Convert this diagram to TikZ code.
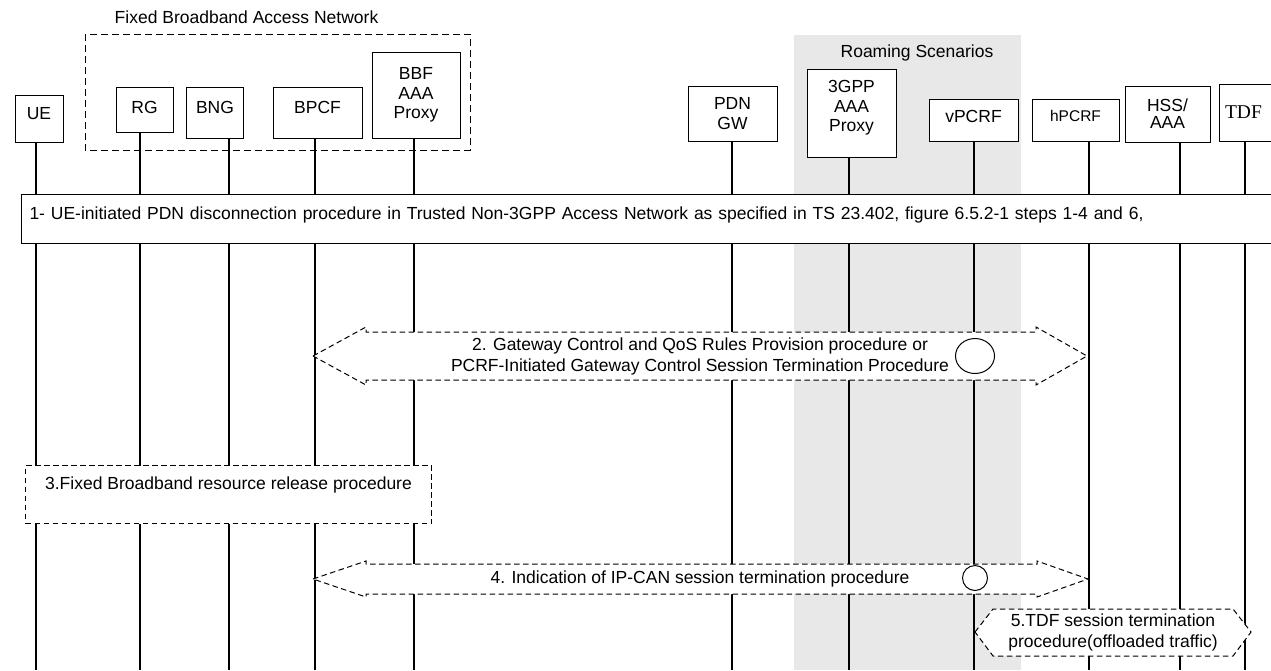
\documentclass[tikz,border=0pt]{standalone}
\usepackage{fontspec}
\setmainfont{Liberation Sans}
\newfontfamily\tdffont{Liberation Serif}
\tikzset{
    entity/.style={draw, fill=white, line width=1pt, inner sep=0pt, align=center,
            font=\fontsize{17.5}{19.5}\selectfont},
    lifeline/.style={line width=1.1pt},
    procdash/.style={dash pattern=on 5.5pt off 3.5pt, line width=1pt},
    proctext/.style={inner sep=0pt, align=center, font=\fontsize{17.5}{21}\selectfont},
}

\begin{document}
\begin{tikzpicture}[x=1pt, y=-1pt]
        \useasboundingbox (0,0) rectangle (1271,670);
        %draw roaming area
        \fill[black!9] (794,35) rectangle (1021,670);
        \node[proctext] (roaming) at (917,53) {Roaming Scenarios};
        %draw fixed broadband access network area
        \draw[dash pattern=on 7pt off 4pt, line width=1pt] (85,34) rectangle (470,150);
        \node[proctext] (fban) at (246.5,17) {Fixed Broadband Access Network};
        %draw network elements
        \node[entity, minimum width=48pt, minimum height=47pt, text height=12.5pt, text depth=11pt] (ue) at (39,118.5) {UE};
        \node[entity, minimum width=57pt, minimum height=45pt, text height=12.5pt, text depth=5pt] (rg) at (144.5,109.5) {RG};
        \node[entity, minimum width=57pt, minimum height=51pt, text height=12.5pt, text depth=11pt] (bng) at (215,112.5) {BNG};
        \node[entity, minimum width=89pt, minimum height=51pt, text height=12.5pt, text depth=11pt] (bpcf) at (317.5,112.5) {BPCF};
        \node[entity, minimum width=88pt, minimum height=86pt] (bbf) at (416,95) {BBF\\AAA\\Proxy};
        \node[entity, minimum width=89pt, minimum height=55pt] (pdngw) at (732.5,113.5) {PDN\\GW};
        \node[entity, minimum width=89pt, minimum height=88pt, text depth=14pt] (aaaproxy) at (851.5,113) {3GPP\\AAA\\Proxy};
        \node[entity, minimum width=89pt, minimum height=42pt, text height=12.5pt, text depth=8pt] (vpcrf) at (973.5,120) {vPCRF};
        \node[entity, minimum width=87pt, minimum height=42pt, text height=11pt, text depth=8pt,
            font=\fontsize{15.5}{18}\selectfont] (hpcrf) at (1075.5,120) {hPCRF};
        \node[entity, minimum width=85pt, minimum height=56pt, font=\fontsize{17.5}{17}\selectfont] (hss) at (1167.5,114) {HSS/\\AAA};
        \node[entity, minimum width=56pt, minimum height=57pt, text width=44pt, inner xsep=6pt, align=left,
            font=\tdffont\fontsize{19.5}{22}\selectfont] (tdf) at (1247,112.5) {TDF};
        %draw lifelines
        \coordinate (ue-end) at (36,670);
        \coordinate (rg-end) at (140,670);
        \coordinate (bng-end) at (229,670);
        \coordinate (bpcf-end) at (315,670);
        \coordinate (bbf-end) at (414,670);
        \coordinate (pdngw-end) at (732,670);
        \coordinate (aaaproxy-end) at (849,670);
        \coordinate (vpcrf-end) at (974,670);
        \coordinate (hpcrf-end) at (1089,670);
        \coordinate (hss-end) at (1180,670);
        \coordinate (tdf-end) at (1245,670);
        \draw[lifeline] (ue-end |- ue.south) -- (ue-end);
        \draw[lifeline] (rg-end |- rg.south) -- (rg-end);
        \draw[lifeline] (bng-end |- bng.south) -- (bng-end);
        \draw[lifeline] (bpcf-end |- bpcf.south) -- (bpcf-end);
        \draw[lifeline] (bbf-end |- bbf.south) -- (bbf-end);
        \draw[lifeline] (pdngw-end |- pdngw.south) -- (pdngw-end);
        \draw[lifeline] (aaaproxy-end |- aaaproxy.south) -- (aaaproxy-end);
        \draw[lifeline] (vpcrf-end |- vpcrf.south) -- (vpcrf-end);
        \draw[lifeline] (hpcrf-end |- hpcrf.south) -- (hpcrf-end);
        \draw[lifeline] (hss-end |- hss.south) -- (hss-end);
        \draw[lifeline] (tdf-end |- tdf.south) -- (tdf-end);
        %step 1
        \node[entity, anchor=north west, minimum width=1260pt, minimum height=49pt, text width=1244pt,
            inner xsep=8pt, align=left, text height=12.5pt, text depth=11pt] (step1) at (21,194)
            {1- UE-initiated PDN disconnection procedure in Trusted Non-3GPP Access Network as specified in TS 23.402, figure 6.5.2-1 steps 1-4 and 6,};
        %step 2
        \draw[procdash, fill=white] (313,356) -- (366,327) -- (366,332) -- (1036,332) -- (1036,327) -- (1087,356)
            -- (1036,385) -- (1036,380) -- (366,380) -- (366,385) -- cycle;
        \node[proctext] (step2) at (700,356) {2. Gateway Control and QoS Rules Provision procedure or\\PCRF-Initiated Gateway Control Session Termination Procedure};
        \draw[line width=1pt] (975,356) ellipse [x radius=19.5pt, y radius=17.5pt];
        %step 3
        \node[entity, procdash, anchor=north west, minimum width=406pt, minimum height=58pt,
            text height=12.5pt, text depth=22pt] (step3) at (25,465) {3.Fixed Broadband resource release procedure};
        %step 4
        \draw[procdash, fill=white] (313,579) -- (366,561) -- (366,564) -- (1037,564) -- (1037,561) -- (1088,579)
            -- (1037,597) -- (1037,594) -- (366,594) -- (366,597) -- cycle;
        \node[proctext] (step4) at (700,579) {4. Indication of IP-CAN session termination procedure};
        \draw[line width=1pt] (975,578) circle [radius=12.5pt];
        %step 5
        \draw[procdash, fill=white] (975,632) -- (993,609) -- (1233,609) -- (1251,632) -- (1233,656) -- (993,656) -- cycle;
        \node[proctext] (step5) at (1113,632) {5.TDF session termination\\procedure(offloaded traffic)};
    \end{tikzpicture}
\end{document}
